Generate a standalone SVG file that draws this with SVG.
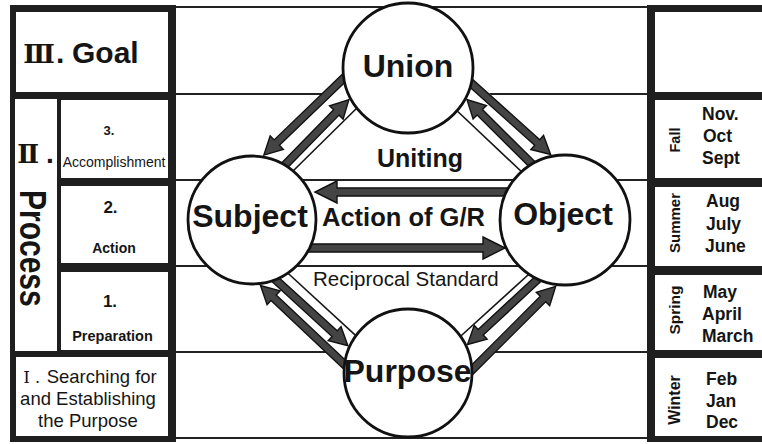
<svg xmlns="http://www.w3.org/2000/svg" width="762" height="444" viewBox="0 0 762 444">
<style>
.frame{fill:#1f1f1f}
.cell{fill:#fff}
.row{stroke:#222;stroke-width:2}
.band{stroke:#fff;fill:none}
.thin{stroke:#151515;stroke-width:1.6}
.arr{fill:#444;stroke:#111;stroke-width:1.4;stroke-linejoin:miter}
.circ{fill:#fff;stroke:#111;stroke-width:2.8}
text{font-family:"Liberation Sans",Arial,sans-serif;fill:#151515}
.b{font-weight:bold}
.rn{font-family:"DejaVu Serif","Noto Sans CJK JP",serif}
.big{font-size:32px;font-weight:bold;text-anchor:middle}
.mo{font-size:17.5px;font-weight:bold}
.se{font-weight:bold;text-anchor:middle}
.mid{text-anchor:middle}
</style>
<rect width="762" height="444" fill="#fff"/>

<g id="rows">
<line class="row" x1="176" y1="7" x2="648" y2="7"/>
<line class="row" x1="176" y1="94" x2="648" y2="94"/>
<line class="row" x1="176" y1="180" x2="648" y2="180"/>
<line class="row" x1="176" y1="266" x2="648" y2="266"/>
<line class="row" x1="176" y1="352" x2="648" y2="352"/>
<line class="row" x1="176" y1="438" x2="648" y2="438"/>
</g>

<g id="left-column">
<rect class="frame" x="10" y="5" width="166" height="437"/>
<g id="goal-left">
<rect class="cell" x="16" y="12" width="152" height="80"/>
<text class="b" font-size="30" y="63"><tspan class="rn" font-size="26" x="39" text-anchor="middle">Ⅲ</tspan><tspan x="56">.</tspan><tspan x="72">Goal</tspan></text>
</g>
<g id="process-label">
<rect class="cell" x="15" y="99" width="42" height="252"/>
<text class="b" font-size="28" y="163"><tspan class="rn" font-size="26" x="28.3" text-anchor="middle">Ⅱ</tspan><tspan x="46">.</tspan></text>
<text class="b" font-size="30" transform="translate(20,190) rotate(90) scale(1,1.2)" x="0" y="0">Process</text>
</g>
<g id="cell-3">
<rect class="cell" x="61" y="100" width="107" height="78"/>
<text class="b mid" font-size="13" x="109" y="135">3.</text>
<text class="mid" font-size="14" x="114" y="167">Accomplishment</text>
</g>
<g id="cell-2">
<rect class="cell" x="61" y="186" width="107" height="77"/>
<text class="b mid" font-size="17" x="110.5" y="213">2.</text>
<text class="b mid" font-size="14" x="114" y="253">Action</text>
</g>
<g id="cell-1">
<rect class="cell" x="61" y="272" width="107" height="78"/>
<text class="b mid" font-size="17" x="110" y="307">1.</text>
<text class="b mid" font-size="14.5" x="112.5" y="341">Preparation</text>
</g>
<g id="cell-purpose">
<rect class="cell" x="16" y="357" width="152" height="79"/>
<text font-size="18.5" y="383"><tspan class="rn" font-size="17" x="26.7" text-anchor="middle">Ⅰ</tspan><tspan x="35">.</tspan><tspan x="46.7">Searching for</tspan></text>
<text class="mid" font-size="18.5" x="88" y="405">and Establishing</text>
<text class="mid" font-size="18.5" x="88" y="427">the Purpose</text>
</g>
</g>

<g id="right-column">
<rect class="frame" x="647" y="5" width="120" height="437"/>
<g id="goal-right"><rect class="cell" x="655" y="12" width="110" height="80"/></g>
<g id="fall">
<rect class="cell" x="655" y="100" width="110" height="78"/>
<text class="se" font-size="14.5" transform="translate(680,140) rotate(-90)">Fall</text>
<text class="mo" x="702" y="120">Nov.</text>
<text class="mo" x="703" y="142">Oct</text>
<text class="mo" x="702" y="164">Sept</text>
</g>
<g id="summer">
<rect class="cell" x="655" y="187" width="110" height="79"/>
<text class="se" font-size="15" transform="translate(680,223) rotate(-90)">Summer</text>
<text class="mo" x="706" y="207">Aug</text>
<text class="mo" x="706" y="229.5">July</text>
<text class="mo" x="705" y="252">June</text>
</g>
<g id="spring">
<rect class="cell" x="655" y="275" width="110" height="75"/>
<text class="se" font-size="15.5" transform="translate(680,310) rotate(-90)">Spring</text>
<text class="mo" x="703" y="298">May</text>
<text class="mo" x="702" y="320">April</text>
<text class="mo" x="702" y="342">March</text>
</g>
<g id="winter">
<rect class="cell" x="655" y="358" width="110" height="78"/>
<text class="se" font-size="16" transform="translate(680,400) rotate(-90)">Winter</text>
<text class="mo" x="706" y="385">Feb</text>
<text class="mo" x="706" y="407">Jan</text>
<text class="mo" x="706" y="428">Dec</text>
</g>
</g>

<g id="connectors">
<line class="band" stroke-width="34" x1="278" y1="164" x2="351" y2="89"/>
<line class="band" stroke-width="35" x1="465" y1="94" x2="539" y2="167"/>
<line class="band" stroke-width="33" x1="272" y1="280" x2="350" y2="351"/>
<line class="band" stroke-width="34" x1="467" y1="353" x2="545" y2="280"/>
<line class="thin" x1="292" y1="172" x2="360" y2="105"/>
<line class="thin" x1="453" y1="107" x2="525" y2="175"/>
<line class="thin" x1="285" y1="270.5" x2="358" y2="337.6"/>
<line class="thin" x1="457" y1="339.5" x2="533" y2="270.5"/>
<path class="arr" transform="translate(263.8,155.1) rotate(136.1)" d="M0,0 L-18,-9.5 L-18,-3.8 L-118,-3.8 L-118,3.8 L-18,3.8 L-18,9.5 Z"/>
<path class="arr" transform="translate(348.9,99.6) rotate(-45.65)" d="M0,0 L-18,-9.5 L-18,-3.8 L-98,-3.8 L-98,3.8 L-18,3.8 L-18,9.5 Z"/>
<path class="arr" transform="translate(550.6,154.5) rotate(41.9)" d="M0,0 L-18,-9.5 L-18,-3.8 L-114,-3.8 L-114,3.8 L-18,3.8 L-18,9.5 Z"/>
<path class="arr" transform="translate(467,99.6) rotate(-135.2)" d="M0,0 L-18,-9.5 L-18,-3.8 L-101,-3.8 L-101,3.8 L-18,3.8 L-18,9.5 Z"/>
<path class="arr" transform="translate(260.5,285.5) rotate(-136.7)" d="M0,0 L-18,-9.5 L-18,-3.8 L-123,-3.8 L-123,3.8 L-18,3.8 L-18,9.5 Z"/>
<path class="arr" transform="translate(347.9,345.8) rotate(42.4)" d="M0,0 L-18,-9.5 L-18,-3.8 L-105,-3.8 L-105,3.8 L-18,3.8 L-18,9.5 Z"/>
<path class="arr" transform="translate(555.7,286.3) rotate(-45)" d="M0,0 L-18,-9.5 L-18,-3.8 L-126,-3.8 L-126,3.8 L-18,3.8 L-18,9.5 Z"/>
<path class="arr" transform="translate(467.5,344.5) rotate(137.1)" d="M0,0 L-18,-9.5 L-18,-3.8 L-105,-3.8 L-105,3.8 L-18,3.8 L-18,9.5 Z"/>
<path class="arr" transform="translate(315,192) rotate(180)" d="M0,0 L-22,-11 L-22,-4 L-195,-4 L-195,4 L-22,4 L-22,11 Z"/>
<path class="arr" transform="translate(505,248)" d="M0,0 L-22,-11 L-22,-4 L-200,-4 L-200,4 L-22,4 L-22,11 Z"/>
<text class="b mid" font-size="25" x="420" y="167">Uniting</text>
<text class="b" font-size="25.5" x="322" y="226">Action of G/R</text>
<text font-size="20.5" x="313" y="286">Reciprocal Standard</text>
</g>

<g id="node-union"><circle class="circ" cx="408" cy="68" r="65"/><text class="big" x="408" y="77">Union</text></g>
<g id="node-subject"><circle class="circ" cx="252" cy="220" r="64"/><text class="big" x="250" y="227">Subject</text></g>
<g id="node-object"><circle class="circ" cx="565" cy="220" r="65"/><text class="big" x="563" y="225">Object</text></g>
<g id="node-purpose"><circle class="circ" cx="408" cy="373" r="64"/><text class="big" x="407.5" y="382">Purpose</text></g>
</svg>
